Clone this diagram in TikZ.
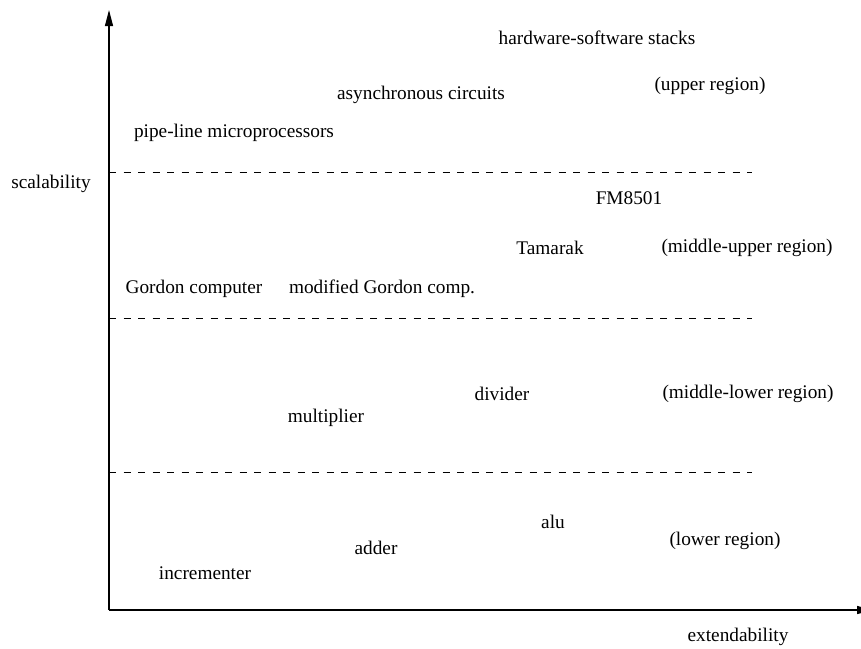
\documentclass[tikz,border=0pt]{standalone}
\usepackage{fontspec}
\setmainfont{Liberation Serif}
\usetikzlibrary{arrows.meta}
\begin{document}
\begin{tikzpicture}[x=1pt,y=-1pt,
  axis/.style={line width=1.1pt,-{Triangle[width=8pt,length=16pt]}},
  divider/.style={line width=0.8pt,dash pattern=on 7pt off 7.5pt},
  lbl/.style={font=\fontsize{19.3}{22}\selectfont,inner sep=0pt}]
  \useasboundingbox (0,0) rectangle (861,648);
  % axes
  \coordinate (o) at (109,610);
  \coordinate (ytop) at (109,10);
  \coordinate (xend) at (873,610);
  \draw[axis] (o) -- (ytop);
  \draw[axis] (o) -- (xend);
  % region separators
  \foreach \y/\n in {172/a,318/b,472/c}{
    \coordinate (s\n) at (109,\y);
    \coordinate (e\n) at (752,\y);
    \draw[divider] (s\n) -- (e\n);
  }
  % axis labels
  \node[lbl] (ylab) at (51,184) {scalability};
  \node[lbl] (xlab) at (738,637) {extendability};
  % upper region
  \node[lbl] (hs) at (597,38) {hardware-software stacks};
  \node[lbl] (ur) at (710,86) {(upper region)};
  \node[lbl] (ac) at (421,95) {asynchronous circuits};
  \node[lbl] (pm) at (234,133) {pipe-line microprocessors};
  % middle-upper region
  \node[lbl] (fm) at (629,198) {FM8501};
  \node[lbl] (tm) at (550,248) {Tamarak};
  \node[lbl] (mur) at (747,248) {(middle-upper region)};
  \node[lbl] (gc) at (194,289) {Gordon computer};
  \node[lbl] (mgc) at (382,289) {modified Gordon comp.};
  % middle-lower region
  \node[lbl] (dv) at (502,394) {divider};
  \node[lbl] (mlr) at (748,394) {(middle-lower region)};
  \node[lbl] (mu) at (326,418) {multiplier};
  % lower region
  \node[lbl] (alu) at (553,522) {alu};
  \node[lbl] (lr) at (725,541) {(lower region)};
  \node[lbl] (ad) at (376,548) {adder};
  \node[lbl] (inc) at (205,573) {incrementer};
\end{tikzpicture}
\end{document}
